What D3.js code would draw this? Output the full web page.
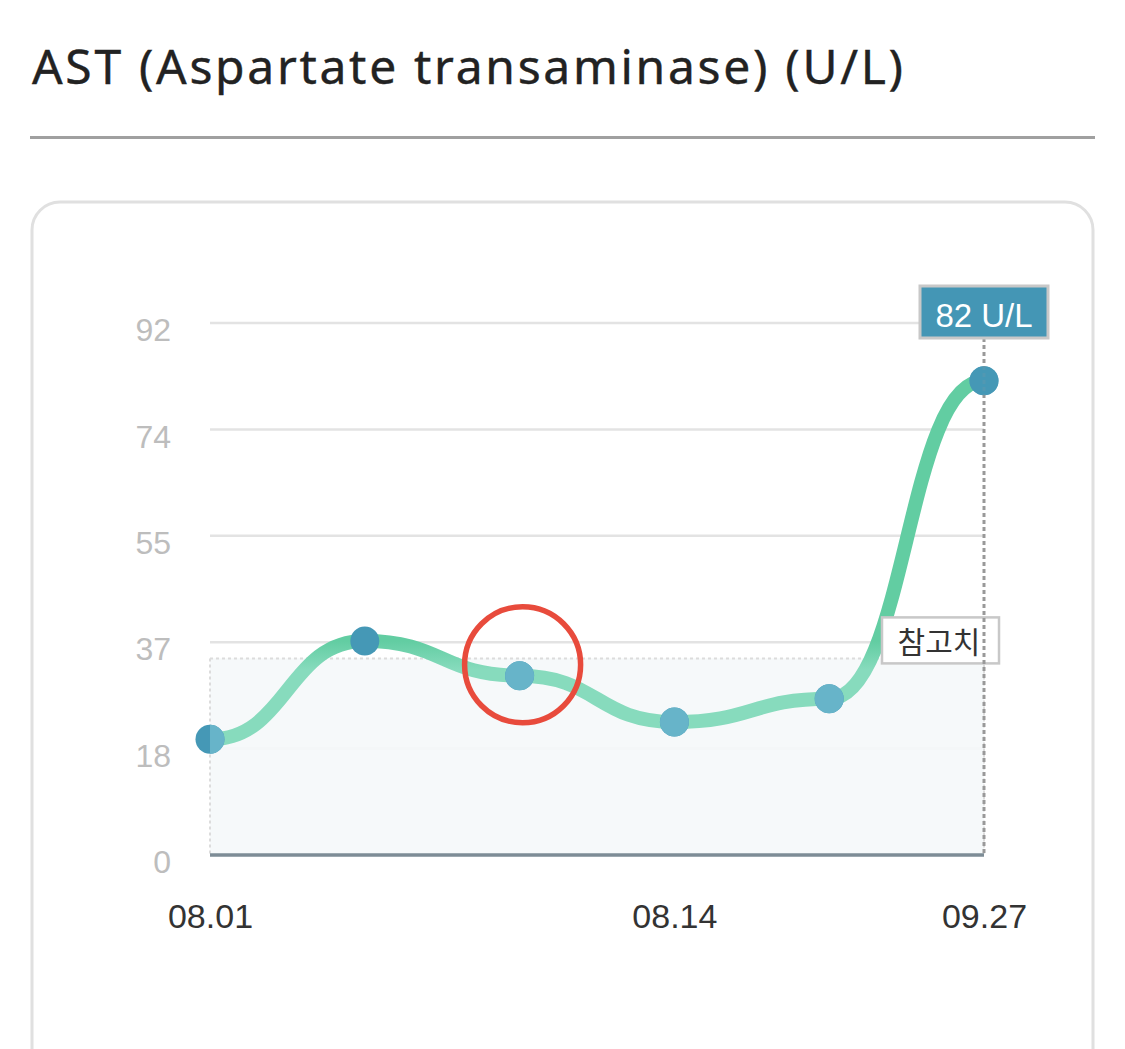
<!DOCTYPE html>
<html>
<head>
<meta charset="utf-8">
<script src="https://cdn.jsdelivr.net/npm/d3@7"></script>
<style>
  html, body { margin: 0; padding: 0; background: #fff; }
  svg { display: block; }
</style>
</head>
<body>
<svg id="chart" width="1125" height="1049"></svg>
<script>
// ---- data ----
const titleText = "AST (Aspartate transaminase) (U/L)";
const xLabels = ["08.01", "", "", "08.14", "", "09.27"];
const values = [20, 37, 31, 23, 27, 82];
const yTicks = [0, 18.4, 36.8, 55.2, 73.6, 92];
const refRange = [0, 34];
const unit = "U/L";
const refLabel = "참고치";
const highlightIndex = 2;
const hoverIndex = 5;

// ---- layout ----
const svg = d3.select("#chart");
const plot = { left: 210, right: 984, top: 323, bottom: 855 };

const x = d3.scalePoint().domain(d3.range(values.length)).range([plot.left, plot.right]);
const y = d3.scaleLinear().domain([0, 92]).range([plot.bottom, plot.top]);

// title
const title = svg.append("text")
  .attr("x", 32).attr("y", 84)
  .attr("font-family", "'Noto Sans', 'Open Sans', sans-serif")
  .attr("font-size", 48)
  .attr("fill", "#222")
  .attr("stroke", "#222").attr("stroke-width", 0.4)
  .text(titleText);
{
  const len = title.node().getComputedTextLength();
  const target = 871;
  const ls = (target - len) / (titleText.length - 1);
  title.attr("letter-spacing", ls);
}
svg.append("line")
  .attr("x1", 30).attr("x2", 1095).attr("y1", 137.5).attr("y2", 137.5)
  .attr("stroke", "#a0a0a0").attr("stroke-width", 3);

// card
svg.append("rect")
  .attr("x", 32).attr("y", 202).attr("width", 1061).attr("height", 950)
  .attr("rx", 28).attr("ry", 28)
  .attr("fill", "#fff").attr("stroke", "#e0e0e0").attr("stroke-width", 3);

const defs = svg.append("defs");
// line gradient (darker above reference range)
const grad = defs.append("linearGradient")
  .attr("id", "lineGrad").attr("gradientUnits", "userSpaceOnUse")
  .attr("x1", 0).attr("x2", 0).attr("y1", y(92)).attr("y2", y(0));
const gStop = (v) => (y(v) - y(92)) / (y(0) - y(92));
grad.append("stop").attr("offset", 0).attr("stop-color", "#62cda2");
grad.append("stop").attr("offset", gStop(refRange[1] + 3)).attr("stop-color", "#62cda2");
grad.append("stop").attr("offset", gStop(refRange[1] - 2)).attr("stop-color", "#87dbbd");
grad.append("stop").attr("offset", 1).attr("stop-color", "#87dbbd");

defs.append("clipPath").attr("id", "bandClip")
  .append("rect")
  .attr("x", plot.left).attr("y", y(refRange[1]))
  .attr("width", plot.right - plot.left).attr("height", y(refRange[0]) - y(refRange[1]));

// gridlines
svg.append("g").selectAll("line").data(yTicks.slice(1)).join("line")
  .attr("x1", plot.left).attr("x2", plot.right)
  .attr("y1", d => y(d)).attr("y2", d => y(d))
  .attr("stroke", "#e3e3e3").attr("stroke-width", 2.5);

// reference band
svg.append("rect")
  .attr("x", plot.left).attr("y", y(refRange[1]))
  .attr("width", plot.right - plot.left).attr("height", y(refRange[0]) - y(refRange[1]))
  .attr("fill", "#f5f8fa").attr("fill-opacity", 0.9)
  .attr("stroke", "#dcdcdc").attr("stroke-width", 2).attr("stroke-dasharray", "3,3");

// y axis labels
const yAxis = d3.axisLeft(y).tickValues(yTicks).tickFormat(d3.format(".0f")).tickSize(0).tickPadding(0);
const yg = svg.append("g").attr("transform", `translate(171,0)`).call(yAxis);
yg.select(".domain").remove();
yg.selectAll("text")
  .attr("font-family", "'Liberation Sans', Arial, sans-serif")
  .attr("font-size", 32).attr("fill", "#bdbdbd")
  .attr("dy", "0.55em");

// bottom axis line
svg.append("line")
  .attr("x1", plot.left).attr("x2", plot.right)
  .attr("y1", y(0)).attr("y2", y(0))
  .attr("stroke", "#7d8c96").attr("stroke-width", 3.5);

// x labels
const xAxis = d3.axisBottom(x).tickFormat(i => xLabels[i]).tickSize(0).tickPadding(0);
const xg = svg.append("g").attr("transform", `translate(0,${y(0)})`).call(xAxis);
xg.select(".domain").remove();
xg.selectAll("text")
  .attr("font-family", "'Liberation Sans', Arial, sans-serif")
  .attr("font-size", 34).attr("fill", "#333")
  .attr("dy", 0).attr("y", 73);

// line
const line = d3.line().x((d, i) => x(i)).y(d => y(d)).curve(d3.curveBumpX);
svg.append("path").datum(values)
  .attr("d", line)
  .attr("fill", "none")
  .attr("stroke", "url(#lineGrad)")
  .attr("stroke-width", 14)
  .attr("stroke-linecap", "round");

// points: dark base, lighter inside reference band
svg.append("g").selectAll("circle").data(values).join("circle")
  .attr("cx", (d, i) => x(i)).attr("cy", d => y(d)).attr("r", 14.5)
  .attr("fill", "#4598b6");
svg.append("g").attr("clip-path", "url(#bandClip)")
  .selectAll("circle").data(values).join("circle")
  .attr("cx", (d, i) => x(i)).attr("cy", d => y(d)).attr("r", 14.5)
  .attr("fill", "#67b4c9");

// reference label
const refG = svg.append("g");
const refX = 882, refY = y(refRange[1]) - 41;
refG.append("rect")
  .attr("x", refX).attr("y", refY).attr("width", 117).attr("height", 46)
  .attr("fill", "#fff").attr("stroke", "#c8c8c8").attr("stroke-width", 2.5);
refG.append("text")
  .attr("x", refX + 57).attr("y", refY + 36)
  .attr("text-anchor", "middle")
  .attr("font-family", "'Noto Sans CJK KR', sans-serif")
  .attr("font-size", 30).attr("fill", "#333")
  .text(refLabel);

// hover line
const hx = x(hoverIndex);
svg.append("line")
  .attr("x1", hx).attr("x2", hx).attr("y1", 338).attr("y2", y(0))
  .attr("stroke", "#999").attr("stroke-width", 3).attr("stroke-dasharray", "4,3");
svg.append("circle")
  .attr("cx", hx).attr("cy", y(values[hoverIndex])).attr("r", 14.5)
  .attr("fill", "#4598b6").attr("fill-opacity", 0.85);

// tooltip
svg.append("rect")
  .attr("x", hx - 64).attr("y", 286).attr("width", 128).attr("height", 52)
  .attr("fill", "#4496b5").attr("stroke", "#c8c8c8").attr("stroke-width", 3);
svg.append("text")
  .attr("x", hx).attr("y", 327)
  .attr("text-anchor", "middle")
  .attr("font-family", "'Liberation Sans', Arial, sans-serif")
  .attr("font-size", 33).attr("fill", "#fff")
  .text(`${values[hoverIndex]} ${unit}`);

// highlight circle annotation
svg.append("circle")
  .attr("cx", x(highlightIndex) + 3).attr("cy", y(values[highlightIndex]) - 11)
  .attr("r", 58)
  .attr("fill", "none").attr("stroke", "#e84b3c").attr("stroke-width", 5.5);
</script>
</body>
</html>
